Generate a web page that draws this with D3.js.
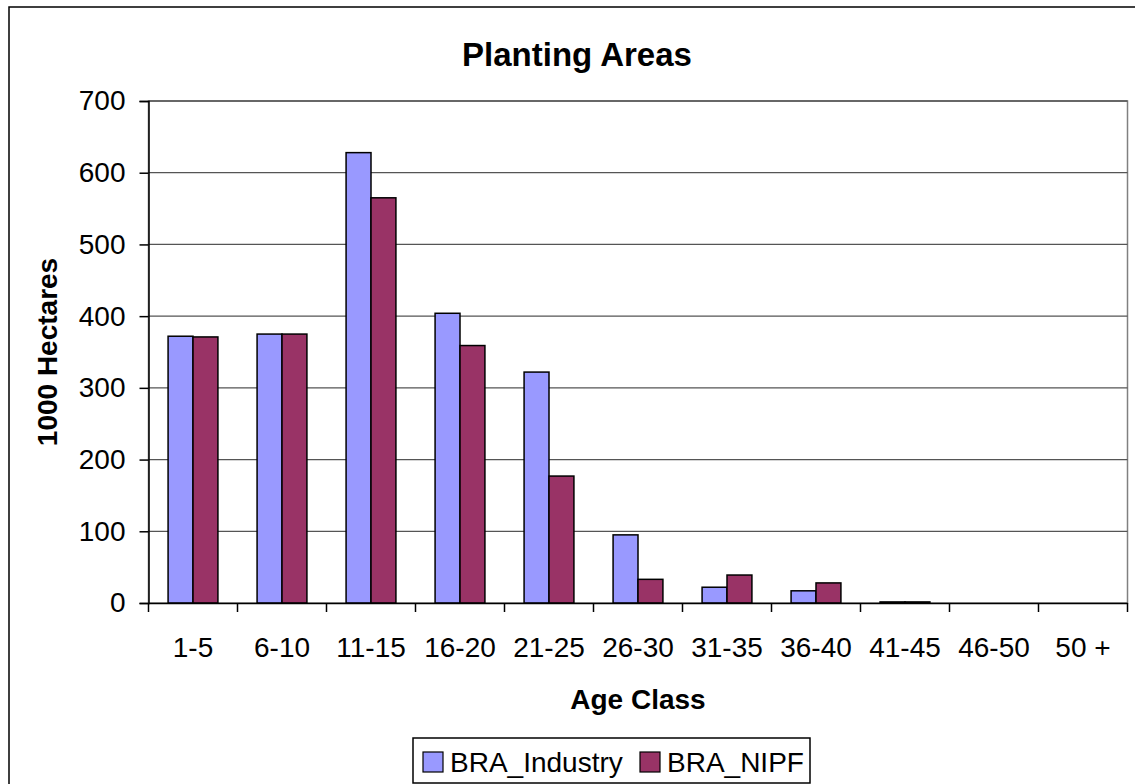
<!DOCTYPE html>
<head>
  <meta charset="utf-8">
  <script src="https://d3js.org/d3.v7.min.js"></script>
  <style>
    body { margin:0; background:#fff; }
    text { font-family: Arial, "Liberation Sans", sans-serif; fill:#000; }
  </style>
</head>
<body>
<script>
  // data
  var ageClasses = ["1-5", "6-10", "11-15", "16-20", "21-25", "26-30", "31-35", "36-40", "41-45", "46-50", "50 +"]
  var braIndustry = [372, 375, 628, 404, 322, 95, 22, 17, 1.5, 0, 0]
  var braNIPF = [371, 375, 565, 359, 177, 33, 39, 28, 1.5, 0, 0]
  var seriesNames = ["BRA_Industry", "BRA_NIPF"]
  var seriesColors = ["#9999ff", "#993366"]
  var yTicks = [0, 100, 200, 300, 400, 500, 600, 700]

  var svg = d3.select("body").append("svg")
    .attr("width", 1135)
    .attr("height", 784)

  // outer chart frame (runs off the right and bottom)
  svg.append("rect")
    .attr("x", 9).attr("y", 7)
    .attr("width", 1200).attr("height", 900)
    .attr("fill", "#fff").attr("stroke", "#000").attr("stroke-width", 1.5)

  var pLeft = 148.5, pRight = 1127.5, pTop = 101, pBottom = 603

  var x = d3.scaleBand()
    .domain(ageClasses)
    .range([pLeft, pRight])
    .paddingInner(0.44)
    .paddingOuter(0.22)

  var xs = d3.scaleBand()
    .domain(seriesNames)
    .range([0, x.bandwidth()])

  var y = d3.scaleLinear()
    .domain([0, 700])
    .range([pBottom, pTop])

  // plot area border
  svg.append("rect")
    .attr("x", pLeft).attr("y", pTop)
    .attr("width", pRight - pLeft).attr("height", pBottom - pTop)
    .attr("fill", "none").attr("stroke", "#808080").attr("stroke-width", 1.5)

  // gridlines
  svg.append("g").selectAll("line").data(yTicks.slice(1)).enter()
    .append("line")
    .attr("x1", pLeft).attr("x2", pRight)
    .attr("y1", function(d) { return y(d) }).attr("y2", function(d) { return y(d) })
    .attr("stroke", "#555").attr("stroke-width", 1.3)

  // bars
  var rows = ageClasses.map(function(c, i) {
    return [{ s: seriesNames[0], c: c, v: braIndustry[i], col: seriesColors[0] },
            { s: seriesNames[1], c: c, v: braNIPF[i], col: seriesColors[1] }]
  })
  svg.append("g").selectAll("g").data(rows).enter()
    .append("g")
    .attr("transform", function(d) { return "translate(" + x(d[0].c) + ",0)" })
    .selectAll("rect").data(function(d) { return d.filter(function(e) { return e.v > 0 }) }).enter()
    .append("rect")
    .attr("x", function(d) { return xs(d.s) })
    .attr("y", function(d) { return y(d.v) })
    .attr("width", xs.bandwidth())
    .attr("height", function(d) { return pBottom - y(d.v) })
    .attr("fill", function(d) { return d.col })
    .attr("stroke", "#000").attr("stroke-width", 1.5)

  // y axis
  var yAxis = d3.axisLeft(y).tickValues(yTicks).tickSize(9).tickPadding(14)
  var gy = svg.append("g")
    .attr("transform", "translate(" + pLeft + ",0)")
    .call(yAxis)
  gy.select(".domain").attr("stroke", "#000").attr("stroke-width", 1.5)
  gy.selectAll(".tick line").attr("stroke", "#000").attr("stroke-width", 1.5)
  gy.selectAll("text").style("font-size", "28px").attr("font-family", "Arial, 'Liberation Sans', sans-serif")

  // x axis: ticks sit between categories
  var xAxis = d3.axisBottom(x).tickSize(0).tickPadding(34)
  var gx = svg.append("g")
    .attr("transform", "translate(0," + pBottom + ")")
    .call(xAxis)
  gx.select(".domain").attr("stroke", "#000").attr("stroke-width", 1.5)
  gx.selectAll("text").style("font-size", "28px").attr("font-family", "Arial, 'Liberation Sans', sans-serif")
  var step = x.step()
  gx.selectAll(".sep").data(d3.range(ageClasses.length + 1)).enter()
    .append("line")
    .attr("x1", function(i) { return pLeft + i * step }).attr("x2", function(i) { return pLeft + i * step })
    .attr("y1", 0).attr("y2", 9)
    .attr("stroke", "#000").attr("stroke-width", 1.5)

  // titles
  svg.append("text")
    .attr("x", 577).attr("y", 66)
    .attr("text-anchor", "middle")
    .style("font-size", "33px").style("font-weight", "bold")
    .text("Planting Areas")

  svg.append("text")
    .attr("x", 638).attr("y", 709)
    .attr("text-anchor", "middle")
    .style("font-size", "28px").style("font-weight", "bold")
    .text("Age Class")

  svg.append("text")
    .attr("transform", "translate(57," + ((pTop + pBottom) / 2) + ") rotate(-90)")
    .attr("text-anchor", "middle")
    .style("font-size", "28px").style("font-weight", "bold")
    .text("1000 Hectares")

  // legend
  var legend = svg.append("g")
  legend.append("rect")
    .attr("x", 413).attr("y", 738).attr("width", 397).attr("height", 45)
    .attr("fill", "#fff").attr("stroke", "#000").attr("stroke-width", 1.5)
  var lx = [423, 640]
  var items = legend.selectAll(".item").data(seriesNames).enter()
    .append("g")
    .attr("transform", function(d, i) { return "translate(" + lx[i] + ",752)" })
  items.append("rect")
    .attr("width", 20).attr("height", 20)
    .attr("fill", function(d, i) { return seriesColors[i] })
    .attr("stroke", "#000").attr("stroke-width", 1.2)
  items.append("text")
    .attr("x", 27).attr("y", 20)
    .style("font-size", "28px")
    .text(function(d) { return d })
</script>
</body>
